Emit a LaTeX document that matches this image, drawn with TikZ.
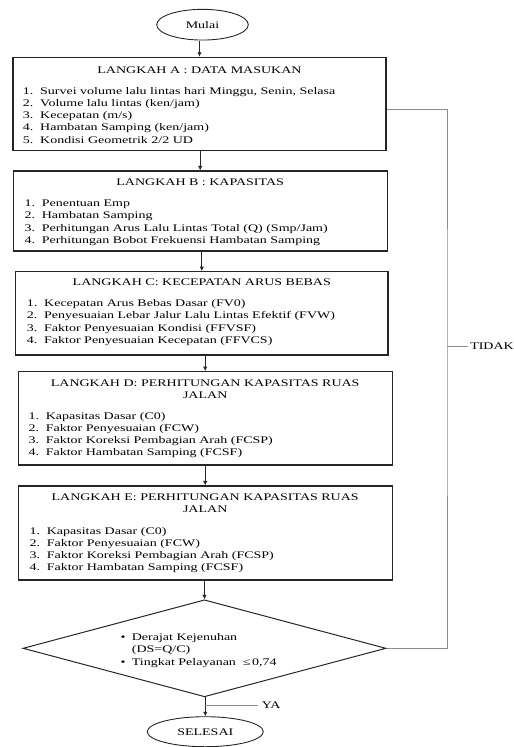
\documentclass[tikz,border=0pt]{standalone}
\usepackage{fontspec}
\setmainfont{Liberation Serif}
\usepackage{graphicx}
\usetikzlibrary{shapes.geometric, arrows.meta}

\newcommand{\squash}[1]{\scalebox{1}[0.722]{#1}}
\newcommand{\steptitle}[1]{\squash{\begin{tabular}[t]{@{}c@{}}#1\end{tabular}}}
\newcommand{\steplist}[1]{\squash{\begin{tabular}[t]{@{}p{17.3pt}@{}l@{}}#1\end{tabular}}}

\tikzset{
    txt/.style={inner sep=0pt, text=black, font=\fontsize{14}{16.9}\selectfont},
    box/.style={draw=black!85, line width=1.1pt, inner sep=0pt},
    term/.style={ellipse, draw=black!85, line width=0.9pt, inner sep=0pt, txt},
    decide/.style={diamond, draw=black!85, line width=1pt, inner sep=0pt},
    arrow/.style={-{Latex[length=4.5pt,width=4.5pt]}, line width=0.8pt, black!85},
    loopline/.style={draw=black!45, line width=0.9pt},
}

\begin{document}
\begin{tikzpicture}[x=1pt, y=-1pt]
    \useasboundingbox (0,0) rectangle (514,747);

    \node[term, minimum width=91.6pt, minimum height=30.7pt] (start) at (202.5,24.7) {\squash{Mulai}};
    \node[box, minimum width=373pt, minimum height=93.4pt] (A) at (199.5,104) {};
    \node[box, minimum width=373.7pt, minimum height=80pt] (B) at (200.2,211) {};
    \node[box, minimum width=372.3pt, minimum height=83.3pt] (C) at (201.8,313.3) {};
    \node[box, minimum width=373.7pt, minimum height=93.3pt] (D) at (205.2,418.3) {};
    \node[box, minimum width=373.7pt, minimum height=94pt] (E) at (205.2,533) {};
    \node[decide, minimum width=363pt, minimum height=97pt] (dec) at (204.5,648.3) {};
    \node[term, minimum width=116pt, minimum height=30pt] (finish) at (205.3,731.7) {\squash{SELESAI}};

    \node[txt, anchor=base] (tA) at (199.5,73.3) {\steptitle{LANGKAH A : DATA MASUKAN}};
    \node[txt, anchor=base west] (lA) at (22.7,94.3) {\steplist{
        1. & Survei volume lalu lintas hari Minggu, Senin, Selasa\\
        2. & Volume lalu lintas (ken/jam)\\
        3. & Kecepatan (m/s)\\
        4. & Hambatan Samping (ken/jam)\\
        5. & Kondisi Geometrik 2/2 UD}};

    \node[txt, anchor=base] (tB) at (200.2,185.7) {\steptitle{LANGKAH B : KAPASITAS}};
    \node[txt, anchor=base west] (lB) at (24.3,206.7) {\steplist{
        1. & Penentuan Emp\\
        2. & Hambatan Samping\\
        3. & Perhitungan Arus Lalu Lintas Total (Q) (Smp/Jam)\\
        4. & Perhitungan Bobot Frekuensi Hambatan Samping}};

    \node[txt, anchor=base] (tC) at (201.8,285.7) {\steptitle{LANGKAH C: KECEPATAN ARUS BEBAS}};
    \node[txt, anchor=base west] (lC) at (26.7,306.7) {\steplist{
        1. & Kecepatan Arus Bebas Dasar (FV0)\\
        2. & Penyesuaian Lebar Jalur Lalu Lintas Efektif (FVW)\\
        3. & Faktor Penyesuaian Kondisi (FFVSF)\\
        4. & Faktor Penyesuaian Kecepatan (FFVCS)}};

    \node[txt, anchor=base] (tD) at (205.2,386.7) {\steptitle{LANGKAH D: PERHITUNGAN KAPASITAS RUAS\\JALAN}};
    \node[txt, anchor=base west] (lD) at (28.3,419.3) {\steplist{
        1. & Kapasitas Dasar (C0)\\
        2. & Faktor Penyesuaian (FCW)\\
        3. & Faktor Koreksi Pembagian Arah (FCSP)\\
        4. & Faktor Hambatan Samping (FCSF)}};

    \node[txt, anchor=base] (tE) at (205.2,500.7) {\steptitle{LANGKAH E: PERHITUNGAN KAPASITAS RUAS\\JALAN}};
    \node[txt, anchor=base west] (lE) at (29.3,534) {\steplist{
        1. & Kapasitas Dasar (C0)\\
        2. & Faktor Penyesuaian (FCW)\\
        3. & Faktor Koreksi Pembagian Arah (FCSP)\\
        4. & Faktor Hambatan Samping (FCSF)}};

    \node[txt, anchor=base west] (ldec) at (120.5,640) {\squash{\begin{tabular}[t]{@{}p{11.2pt}@{}l@{}}
        \textbullet & Derajat Kejenuhan\\[0.8pt]
                    & (DS=Q/C)\\[0.8pt]
        \textbullet & Tingkat Pelayanan\hspace{7pt}≤\hspace{1.5pt}0,74\end{tabular}}};

    \draw[arrow] (start.south -| A.north) -- (A.north);
    \draw[arrow] (A.south -| B.north) -- (B.north);
    \draw[arrow] (B.south -| C.north) -- (C.north);
    \draw[arrow] (C.south -| D.north) -- (D.north);
    \draw[arrow] (D.south -| E.north) -- (E.north);
    \draw[arrow] (E.south -| dec.north) -- (dec.north);
    \draw[arrow] (dec.south -| finish.north) -- (finish.north);

    \coordinate (back) at (447,346);
    \coordinate (yes) at (205.3,705);
    \draw[loopline] (dec.east) -| (back) |- ([yshift=-5.3pt]A.east);
    \draw[loopline] (back) -- ++(21.3,0) node[txt, anchor=west, xshift=1.5pt] (no) {\squash{TIDAK}};
    \draw[loopline] (yes) -- ++(53,0) node[txt, anchor=west, xshift=3pt] (yeslbl) {\squash{YA}};
\end{tikzpicture}
\end{document}
